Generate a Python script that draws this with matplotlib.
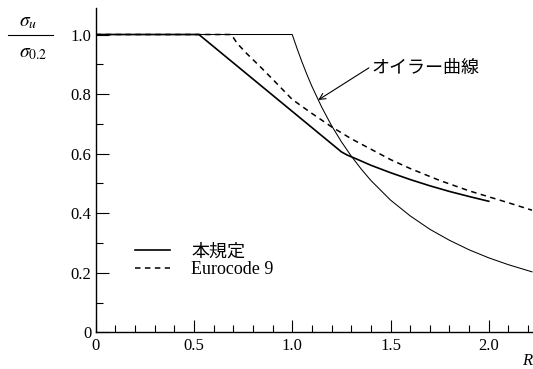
import matplotlib
matplotlib.use("Agg")
import matplotlib.pyplot as plt
from matplotlib.lines import Line2D
from matplotlib.font_manager import FontProperties
from matplotlib.ticker import MultipleLocator, FixedLocator

plt.rcParams['font.family'] = ['Liberation Serif', 'Noto Sans CJK JP', 'DejaVu Sans']
plt.rcParams['mathtext.fontset'] = 'stix'

# ---- data ----
R_euler = [0.0, 1.0, 1.025, 1.05, 1.075, 1.1, 1.15, 1.2, 1.25, 1.3, 1.35, 1.4,
           1.5, 1.6, 1.7, 1.8, 1.9, 2.0, 2.1, 2.22]
v_euler = [1.0, 1.0, 0.952, 0.907, 0.865, 0.826, 0.756, 0.694, 0.640, 0.592,
           0.549, 0.510, 0.444, 0.391, 0.346, 0.309, 0.277, 0.250, 0.227, 0.203]

R_rule = [0.0, 0.525, 1.25, 1.28, 1.32, 1.4, 1.5, 1.6, 1.7, 1.8, 1.9, 2.0]
v_rule = [1.0, 1.0, 0.606, 0.595, 0.584, 0.561, 0.536, 0.513, 0.492, 0.473, 0.456, 0.440]

R_ec9 = [0.0, 0.69, 0.72, 0.77, 0.84, 0.90, 1.0, 1.1, 1.2, 1.3, 1.4, 1.5, 1.6,
         1.75, 1.9, 2.0, 2.1, 2.22]
v_ec9 = [1.0, 1.0, 0.970, 0.935, 0.890, 0.850, 0.782, 0.735, 0.690, 0.650, 0.615,
         0.580, 0.550, 0.510, 0.475, 0.455, 0.435, 0.410]

label_rule = '本規定'
label_ec9 = 'Eurocode 9'
label_euler = 'オイラー曲線'
x_ticks = [0, 0.5, 1.0, 1.5, 2.0]
x_ticklabels = ['0', '0.5', '1.0', '1.5', '2.0']
y_ticks = [0, 0.2, 0.4, 0.6, 0.8, 1.0]
y_ticklabels = ['0', '0.2', '0.4', '0.6', '0.8', '1.0']

serif = FontProperties(family='Liberation Serif', size=12)

# ---- figure ----
W, H = 533, 369
fig = plt.figure(figsize=(W / 100, H / 100), dpi=100)
ax = fig.add_axes([95.7 / W, 1 - 332.3 / H, (W - 95.7) / W, (332.3 - 8.3) / H])

ax.plot(R_euler, v_euler, color='black', lw=0.75)
ln_rule, = ax.plot(R_rule, v_rule, color='black', lw=1.2)
ln_ec9, = ax.plot(R_ec9, v_ec9, color='black', lw=1.1, linestyle=(0, (3.6, 2.9)))

ax.set_xlim(0, 2.225)
ax.set_ylim(0, 1.088)

for s in ['top', 'right']:
    ax.spines[s].set_visible(False)
for s in ['left', 'bottom']:
    ax.spines[s].set_linewidth(1.0)

ax.xaxis.set_major_locator(FixedLocator(x_ticks))
ax.set_xticklabels(x_ticklabels, fontproperties=serif)
ax.yaxis.set_major_locator(FixedLocator(y_ticks))
ax.set_yticklabels(y_ticklabels, fontproperties=serif)
ax.xaxis.set_minor_locator(MultipleLocator(0.1))
ax.yaxis.set_minor_locator(MultipleLocator(0.1))
ax.tick_params(which='major', direction='in', length=9, width=0.8, pad=4)
ax.tick_params(which='minor', direction='in', length=4.7, width=0.8)
ax.tick_params(axis='y', which='major', pad=3)

# annotation for Euler curve
ax.annotate('', xy=(1.132, 0.780), xytext=(1.39, 0.888),
            arrowprops=dict(arrowstyle='->', color='black', lw=0.8,
                            shrinkA=0, shrinkB=0, mutation_scale=11))
ax.text(1.405, 0.888, label_euler, fontsize=13, va='center', ha='left',
        family=['Noto Sans CJK JP', 'DejaVu Sans'])

# legend
leg = ax.legend([ln_rule, ln_ec9], [label_rule, label_ec9],
                loc='upper left', bbox_to_anchor=(0.09, 0.275),
                frameon=False, borderpad=0, borderaxespad=0,
                handlelength=1.95, handletextpad=1.15, labelspacing=0.05,
                prop=FontProperties(family=['Liberation Serif', 'Noto Sans CJK JP'], size=13))

# y-axis label as fraction
fig.text(28 / W, 1 - 22 / H, r'$\sigma_u$', fontsize=14, ha='center', va='center')
fig.add_artist(Line2D([8.3 / W, 53.3 / W], [1 - 35 / H, 1 - 35 / H],
                      transform=fig.transFigure, color='black', lw=0.8))
fig.text(33 / W, 1 - 53 / H, r'$\sigma_{0.2}$', fontsize=14, ha='center', va='center')

# x-axis label (partly cut at the right edge)
fig.text(522 / W, 1 - 361 / H, 'R', fontsize=12, style='italic', ha='left', va='center',
         family='Liberation Serif')

fig.savefig('out.png', dpi=100)
